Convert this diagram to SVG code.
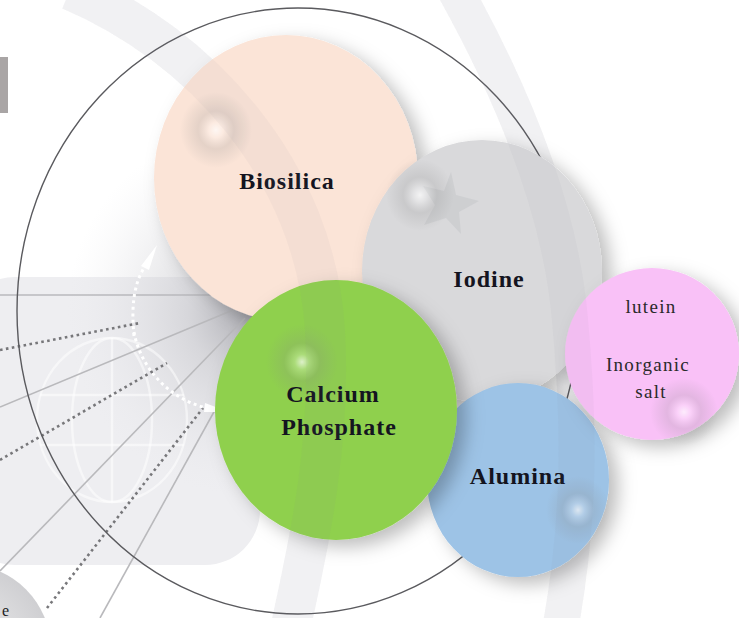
<svg xmlns="http://www.w3.org/2000/svg" width="739" height="618" viewBox="0 0 739 618">
  <style>
    .lbl { font-family: "Liberation Serif", "Times New Roman", serif; font-weight: bold; font-size: 24px; fill: #141420; text-anchor: middle; letter-spacing: 1px; }
    .lbl2 { font-family: "Liberation Serif", "Times New Roman", serif; font-size: 19px; fill: #2a2a2a; text-anchor: middle; letter-spacing: 1.3px; }
    .solid { stroke: #b9b9bc; stroke-width: 1.6; fill: none; }
    .dots { stroke: #77777a; stroke-width: 2.6; stroke-dasharray: 2.6 3.4; fill: none; }
    .wdots { stroke: #ffffff; stroke-width: 3; stroke-dasharray: 3 3.5; fill: none; }
    .band { fill: none; stroke: #8c8ca0; stroke-opacity: 0.06; }
  </style>
  <defs>
    <filter id="shadow" x="-30%" y="-30%" width="170%" height="170%">
      <feDropShadow dx="9" dy="7" stdDeviation="9" flood-color="#000" flood-opacity="0.26"/>
    </filter>
    <radialGradient id="gloss">
      <stop offset="0" stop-color="#ffffff" stop-opacity="0.7"/>
      <stop offset="0.2" stop-color="#ffffff" stop-opacity="0.25"/>
      <stop offset="0.5" stop-color="#8a8a8a" stop-opacity="0.2"/>
      <stop offset="1" stop-color="#888888" stop-opacity="0"/>
    </radialGradient>
    <radialGradient id="glow" cx="252" cy="312" r="185" gradientUnits="userSpaceOnUse">
      <stop offset="0" stop-color="#a4a4aa" stop-opacity="0.95"/>
      <stop offset="0.35" stop-color="#c4c4c9" stop-opacity="0.55"/>
      <stop offset="1" stop-color="#e6e6ea" stop-opacity="0"/>
    </radialGradient>
    <radialGradient id="bl" cx="-35" cy="650" r="86" gradientUnits="userSpaceOnUse">
      <stop offset="0.6" stop-color="#dcdcde"/>
      <stop offset="1" stop-color="#cfcfd2"/>
    </radialGradient>
  </defs>

  <rect width="739" height="618" fill="#ffffff"/>

  <!-- background watermark -->
  <g id="background">
    <rect x="-40" y="277" width="300" height="288" rx="55" fill="#eeeef1"/>
    <circle cx="252" cy="312" r="185" fill="url(#glow)"/>
    <g fill="none" stroke="#ffffff" stroke-opacity="0.5" stroke-width="2.5">
      <ellipse cx="112" cy="420" rx="75" ry="82"/>
      <ellipse cx="112" cy="420" rx="40" ry="82"/>
      <line x1="40" y1="395" x2="184" y2="395"/>
      <line x1="40" y1="445" x2="184" y2="445"/>
      <line x1="112" y1="338" x2="112" y2="502"/>
    </g>
    <path class="band" stroke-width="40" d="M 70,-10 C 200,45 315,170 325,330 C 332,450 305,560 290,630"/>
    <path class="band" stroke-width="36" d="M 455,-10 C 505,80 560,200 570,320 C 580,430 580,520 560,630"/>
    <rect x="0" y="57" width="8" height="56" fill="#a9a5a5"/>
  </g>

  <!-- connectors -->
  <g id="connectors">
    <line class="solid" x1="0" y1="295" x2="245" y2="295"/>
    <line class="solid" x1="0" y1="407" x2="245" y2="305"/>
    <line class="solid" x1="0" y1="571" x2="245" y2="318"/>
    <line class="solid" x1="100" y1="618" x2="236" y2="372"/>
    <line class="dots" x1="0" y1="350" x2="140" y2="323"/>
    <line class="dots" x1="0" y1="460" x2="167" y2="363"/>
    <line class="dots" x1="47" y1="608" x2="203" y2="408"/>
    <path class="wdots" d="M 134,336 C 131,305 134,282 146,265"/>
    <polygon points="157,245 149,270 141,266" fill="#ffffff"/>
    <path class="wdots" d="M 134,332 C 140,365 165,397 206,408"/>
    <polygon points="229,412 205,403 204,412" fill="#ffffff"/>
  </g>

  <ellipse id="outer-ring" cx="298" cy="311" rx="281" ry="303" fill="none" stroke="#5a5a5e" stroke-width="1.4"/>

  <g id="partial-node">
    <circle cx="-35" cy="650" r="86" fill="url(#bl)"/>
    <text x="2" y="616" style="font-family: 'Liberation Serif', serif; font-size: 16px; fill: #222;">e</text>
  </g>

  <g id="biosilica">
    <ellipse cx="286" cy="178" rx="132" ry="143" fill="#fbe4d7" filter="url(#shadow)"/>
    <ellipse cx="216" cy="130" rx="36" ry="38" fill="url(#gloss)"/>
    <text class="lbl" x="287" y="189">Biosilica</text>
  </g>

  <g id="iodine">
    <ellipse cx="482" cy="271" rx="120" ry="131" fill="#d9d9db" filter="url(#shadow)"/>
    <polygon points="451,172 456,195 479,201 459,212 461,234 446,218 424,225 435,205 423,186 444,191" fill="#c9cacd" opacity="0.7"/>
    <ellipse cx="420" cy="195" rx="34" ry="36" fill="url(#gloss)"/>
    <text class="lbl" x="489" y="287">Iodine</text>
  </g>

  <g id="alumina">
    <ellipse cx="518" cy="480" rx="91" ry="97" fill="#9dc3e6" filter="url(#shadow)"/>
    <ellipse cx="578" cy="510" rx="32" ry="34" fill="url(#gloss)"/>
    <text class="lbl" x="518" y="484">Alumina</text>
  </g>

  <g id="calcium-phosphate">
    <ellipse cx="336" cy="410" rx="121" ry="130" fill="#8fd04e" filter="url(#shadow)"/>
    <ellipse cx="302" cy="362" rx="36" ry="38" fill="url(#gloss)"/>
    <text class="lbl" x="333" y="402">Calcium</text>
    <text class="lbl" x="339" y="435">Phosphate</text>
  </g>

  <g id="lutein-inorganic-salt">
    <ellipse cx="652" cy="354" rx="87" ry="86" fill="#f9c1f7" filter="url(#shadow)"/>
    <ellipse cx="684" cy="412" rx="34" ry="34" fill="url(#gloss)"/>
    <text class="lbl2" x="651" y="313">lutein</text>
    <text class="lbl2" x="648" y="371">Inorganic</text>
    <text class="lbl2" x="651" y="398">salt</text>
  </g>

  <!-- watermark bands over nodes -->
  <g id="overlay">
    <path class="band" stroke-width="40" d="M 70,-10 C 200,45 315,170 325,330 C 332,450 305,560 290,630"/>
    <path class="band" stroke-width="36" d="M 455,-10 C 505,80 560,200 570,320 C 580,430 580,520 560,630"/>
  </g>
</svg>
